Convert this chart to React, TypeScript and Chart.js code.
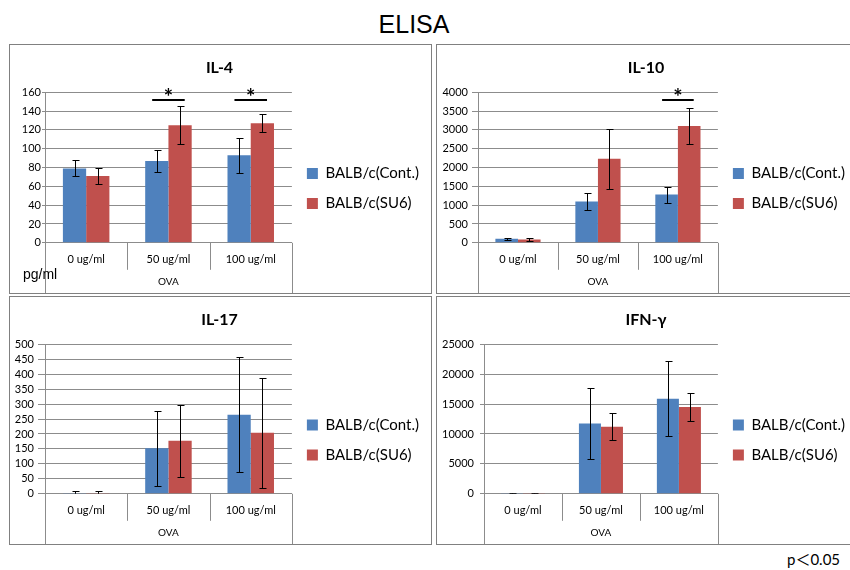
import React, { useEffect, useRef } from "react";
import { Chart, registerables } from "chart.js";

Chart.register(...registerables);

// ---------- data ----------
const categories = ["0 ug/ml", "50 ug/ml", "100 ug/ml"];
const axisGroupTitle = "OVA";
const seriesNames = ["BALB/c(Cont.)", "BALB/c(SU6)"];
const seriesColors = ["#4F81BD", "#C0504D"];

// IL-4
const il4Cont = [79, 87, 93];
const il4ContSd = [8.5, 11.5, 18.5];
const il4Su6 = [71, 125, 127];
const il4Su6Sd = [9, 20.5, 9.5];
const il4Ticks = [0, 160, 20];
const il4Sig = [1, 2];
const il4SigLevel = 152;

// IL-10
const il10Cont = [105, 1100, 1280];
const il10ContSd = [35, 220, 215];
const il10Su6 = [88, 2230, 3100];
const il10Su6Sd = [40, 800, 480];
const il10Ticks = [0, 4000, 500];
const il10Sig = [2];
const il10SigLevel = 3800;

// IL-17
const il17Cont = [1, 152, 264];
const il17ContSd = [8, 125, 192];
const il17Su6 = [1, 177, 204];
const il17Su6Sd = [8, 121, 184];
const il17Ticks = [0, 500, 50];
const il17Sig: number[] = [];
const il17SigLevel = 0;

// IFN-γ
const ifnCont = [60, 11750, 15900];
const ifnContSd = [80, 5930, 6240];
const ifnSu6 = [50, 11220, 14520];
const ifnSu6Sd = [60, 2270, 2380];
const ifnTicks = [0, 25000, 5000];
const ifnSig: number[] = [];
const ifnSigLevel = 0;

const pageTitle = "ELISA";
const unitLabel = "pg/ml";
const footNote = "p＜0.05";

// ---------- styles ----------
const FONT = 'Lato, "Open Sans", sans-serif';
const GRID = "#8c8c8c";

type PanelProps = {
  title: string;
  cont: number[];
  contSd: number[];
  su6: number[];
  su6Sd: number[];
  ticks: number[];
  sig: number[];
  sigLevel: number;
  width: number;
  height: number;
  yWidth: number;
  tickLen: number;
  tickPad: number;
  padRight: number;
};

function Panel(p: PanelProps) {
  const ref = useRef<HTMLCanvasElement | null>(null);
  useEffect(() => {
    if (!ref.current) return;
    const values = [p.cont, p.su6];
    const sds = [p.contSd, p.su6Sd];

    // let the right-hand legend be wider than the default layout limit
    const widenLegend = {
      id: "widenLegend",
      beforeLayout(chart: any) {
        const lg = chart.legend;
        if (lg && !lg.__wide) {
          const orig = lg.update.bind(lg);
          lg.update = (mw: number, mh: number, m: any) => orig(Math.max(mw, 200), mh, m);
          lg.__wide = true;
        }
      },
    };

    const errorBars = {
      id: "errorBars",
      afterDatasetsDraw(chart: any) {
        const { ctx, chartArea } = chart;
        const y = chart.scales.y;
        ctx.save();
        ctx.beginPath();
        ctx.rect(chartArea.left, chartArea.top - 30, chartArea.right - chartArea.left, chartArea.bottom - chartArea.top + 30);
        ctx.clip();
        ctx.strokeStyle = "#000";
        ctx.lineWidth = 1;
        values.forEach((vals, di) => {
          const meta = chart.getDatasetMeta(di);
          meta.data.forEach((el: any, i: number) => {
            const x = Math.round(el.x) + 0.5;
            const top = Math.round(y.getPixelForValue(vals[i] + sds[di][i])) + 0.5;
            const bot = Math.round(y.getPixelForValue(vals[i] - sds[di][i])) + 0.5;
            ctx.beginPath();
            ctx.moveTo(x, top);
            ctx.lineTo(x, bot);
            ctx.moveTo(x - 3, top);
            ctx.lineTo(x + 4, top);
            ctx.moveTo(x - 3, bot);
            ctx.lineTo(x + 4, bot);
            ctx.stroke();
          });
        });
        ctx.restore();
      },
    };

    const separators = {
      id: "separators",
      afterDraw(chart: any) {
        const { ctx, chartArea } = chart;
        const x = chart.scales.x;
        const n = categories.length;
        ctx.save();
        ctx.strokeStyle = GRID;
        ctx.lineWidth = 1;
        for (let k = 0; k <= n; k++) {
          const px = Math.round(x.getPixelForValue(k - 0.5)) + 0.5;
          const outer = k === 0 || k === n;
          const end = outer ? chart.height : chartArea.bottom + 27;
          ctx.beginPath();
          ctx.moveTo(px, chartArea.bottom);
          ctx.lineTo(px, end);
          ctx.stroke();
        }
        ctx.restore();
      },
    };

    const sigMarks = {
      id: "sigMarks",
      afterDatasetsDraw(chart: any) {
        const { ctx } = chart;
        const y = chart.scales.y;
        const m0 = chart.getDatasetMeta(0);
        const m1 = chart.getDatasetMeta(1);
        ctx.save();
        p.sig.forEach((idx) => {
          const a = m0.data[idx];
          const b = m1.data[idx];
          const c = (a.x + b.x) / 2;
          const half = (b.x - a.x) * 0.7;
          const ly = Math.round(y.getPixelForValue(p.sigLevel));
          ctx.strokeStyle = "#000";
          ctx.lineWidth = 2;
          ctx.beginPath();
          ctx.moveTo(c - half, ly);
          ctx.lineTo(c + half, ly);
          ctx.stroke();
          ctx.fillStyle = "#000";
          ctx.font = `bold 22px ${FONT}`;
          ctx.textAlign = "center";
          ctx.textBaseline = "alphabetic";
          ctx.fillText("*", c, ly + 5);
        });
        ctx.restore();
      },
    };

    const chart = new Chart(ref.current, {
      type: "bar",
      data: {
        labels: categories,
        datasets: [
          {
            label: seriesNames[0],
            data: p.cont,
            backgroundColor: seriesColors[0],
            borderWidth: 0,
            categoryPercentage: 0.565,
            barPercentage: 1,
          },
          {
            label: seriesNames[1],
            data: p.su6,
            backgroundColor: seriesColors[1],
            borderWidth: 0,
            categoryPercentage: 0.565,
            barPercentage: 1,
          },
        ],
      },
      options: {
        responsive: false,
        maintainAspectRatio: false,
        animation: false,
        devicePixelRatio: 1,
        layout: { padding: { left: 0, right: p.padRight, top: 0, bottom: 0 } },
        plugins: {
          title: {
            display: true,
            text: p.title,
            color: "#000",
            font: { family: FONT, size: 16, weight: "bold" },
            padding: { top: 13, bottom: 15 },
          },
          legend: {
            position: "right",
            align: "center",
            labels: {
              boxWidth: 11,
              boxHeight: 11,
              padding: 15,
              color: "#000",
              font: { family: FONT, size: 15 },
            },
            title: {
              display: true,
              text: " ",
              font: { family: FONT, size: 10 },
              padding: { top: 27, bottom: 0 },
            },
          },
          tooltip: { enabled: false },
        },
        scales: {
          x: {
            grid: { display: false, drawTicks: false },
            border: { display: true, color: GRID },
            ticks: { color: "#000", font: { family: FONT, size: 11 }, padding: 10 },
            title: {
              display: true,
              text: axisGroupTitle,
              color: "#000",
              font: { family: FONT, size: 10 },
              padding: { top: 0, bottom: 5 },
            },
          },
          y: {
            min: p.ticks[0],
            max: p.ticks[1],
            grid: { color: GRID, drawTicks: true, tickLength: p.tickLen },
            border: { display: true, color: GRID },
            ticks: {
              stepSize: p.ticks[2],
              autoSkip: false,
              maxTicksLimit: 30,
              color: "#000",
              padding: p.tickPad,
              font: { family: FONT, size: 11 },
              callback: (v: any) => String(v),
            },
            afterFit: (s: any) => {
              s.width = p.yWidth;
            },
          },
        },
      } as any,
      plugins: [widenLegend, errorBars, separators, sigMarks],
    });
    return () => chart.destroy();
  }, []);
  return (
    <canvas
      ref={ref}
      width={p.width}
      height={p.height}
      style={{ position: "absolute", left: 0, top: 0, width: p.width, height: p.height, display: "block" }}
    />
  );
}

const boxStyle = (left: number, top: number, width: number, height: number): React.CSSProperties => ({
  position: "absolute",
  left,
  top,
  width,
  height,
  border: "1px solid #808080",
  boxSizing: "border-box",
});

export default function App() {
  return (
    <div
      style={{
        position: "absolute",
        left: 0,
        top: 0,
        width: 850,
        height: 570,
        overflow: "hidden",
        background: "#fff",
      }}
    >
      <div
        style={{
          position: "absolute",
          left: 314,
          top: 9,
          width: 200,
          textAlign: "center",
          fontFamily: '"Liberation Sans", Arial, sans-serif',
          fontSize: 25,
          lineHeight: "30px",
          color: "#000",
        }}
      >
        {pageTitle}
      </div>

      <div style={boxStyle(9, 44, 423, 250)}>
        <Panel title="IL-4" cont={il4Cont} contSd={il4ContSd} su6={il4Su6} su6Sd={il4Su6Sd}
          ticks={il4Ticks} sig={il4Sig} sigLevel={il4SigLevel}
          width={421} height={248} yWidth={35} tickLen={3} tickPad={1} padRight={2} />
      </div>
      <div style={boxStyle(436, 44, 420, 250)}>
        <Panel title="IL-10" cont={il10Cont} contSd={il10ContSd} su6={il10Su6} su6Sd={il10Su6Sd}
          ticks={il10Ticks} sig={il10Sig} sigLevel={il10SigLevel}
          width={418} height={248} yWidth={41} tickLen={6} tickPad={4} padRight={0} />
      </div>
      <div style={boxStyle(9, 296, 423, 249)}>
        <Panel title="IL-17" cont={il17Cont} contSd={il17ContSd} su6={il17Su6} su6Sd={il17Su6Sd}
          ticks={il17Ticks} sig={il17Sig} sigLevel={il17SigLevel}
          width={421} height={247} yWidth={35} tickLen={7} tickPad={4} padRight={2} />
      </div>
      <div style={boxStyle(436, 296, 420, 249)}>
        <Panel title="IFN-γ" cont={ifnCont} contSd={ifnContSd} su6={ifnSu6} su6Sd={ifnSu6Sd}
          ticks={ifnTicks} sig={ifnSig} sigLevel={ifnSigLevel}
          width={418} height={247} yWidth={47} tickLen={4} tickPad={6} padRight={0} />
      </div>

      <div
        style={{
          position: "absolute",
          left: 23,
          top: 266,
          fontFamily: '"Liberation Sans", Arial, sans-serif',
          fontSize: 14,
          lineHeight: "16px",
          color: "#000",
          whiteSpace: "nowrap",
        }}
      >
        {unitLabel}
      </div>

      <div
        style={{
          position: "absolute",
          left: 787,
          top: 550,
          fontFamily: 'Lato, "Noto Sans CJK JP", sans-serif',
          fontSize: 15,
          lineHeight: "18px",
          color: "#000",
          whiteSpace: "nowrap",
        }}
      >
        {footNote}
      </div>
    </div>
  );
}
